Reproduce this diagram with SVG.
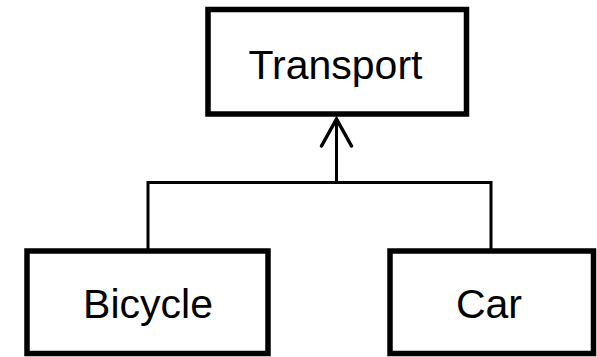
<svg xmlns="http://www.w3.org/2000/svg" width="597" height="357" viewBox="0 0 597 357">
  <style>
    .box { fill: #ffffff; stroke: #000000; stroke-width: 5.5; }
    .label { font-family: "Liberation Sans", Arial, sans-serif; font-size: 41px; fill: #000000; text-anchor: middle; }
    .edge { fill: none; stroke: #000000; stroke-width: 3; }
    .head { fill: none; stroke: #000000; stroke-width: 3.5; stroke-linecap: round; stroke-linejoin: miter; }
  </style>
  <defs>
    <!-- open arrowhead pointing along +x, tip at the line end -->
    <marker id="openArrow" markerUnits="userSpaceOnUse" markerWidth="40" markerHeight="40" refX="36" refY="20" orient="auto" viewBox="0 0 40 40">
      <path class="head" d="M9,5 L36,20 L9,35"/>
    </marker>
  </defs>

  <!-- connectors: generalisation tree -->
  <g id="connectors">
    <polyline class="edge" points="148,251 148,182.5 491,182.5 491,251"/>
    <line class="edge" x1="336.5" y1="182.5" x2="336.5" y2="119" marker-end="url(#openArrow)"/>
  </g>

  <g id="node-transport">
    <rect class="box" x="208" y="9.5" width="258.5" height="104.5"/>
    <text class="label" x="335.5" y="79">Transport</text>
  </g>

  <g id="node-bicycle">
    <rect class="box" x="27" y="251" width="241" height="102.5"/>
    <text class="label" x="148" y="318">Bicycle</text>
  </g>

  <g id="node-car">
    <rect class="box" x="390" y="251" width="203.5" height="102.5"/>
    <text class="label" x="489" y="318">Car</text>
  </g>
</svg>
